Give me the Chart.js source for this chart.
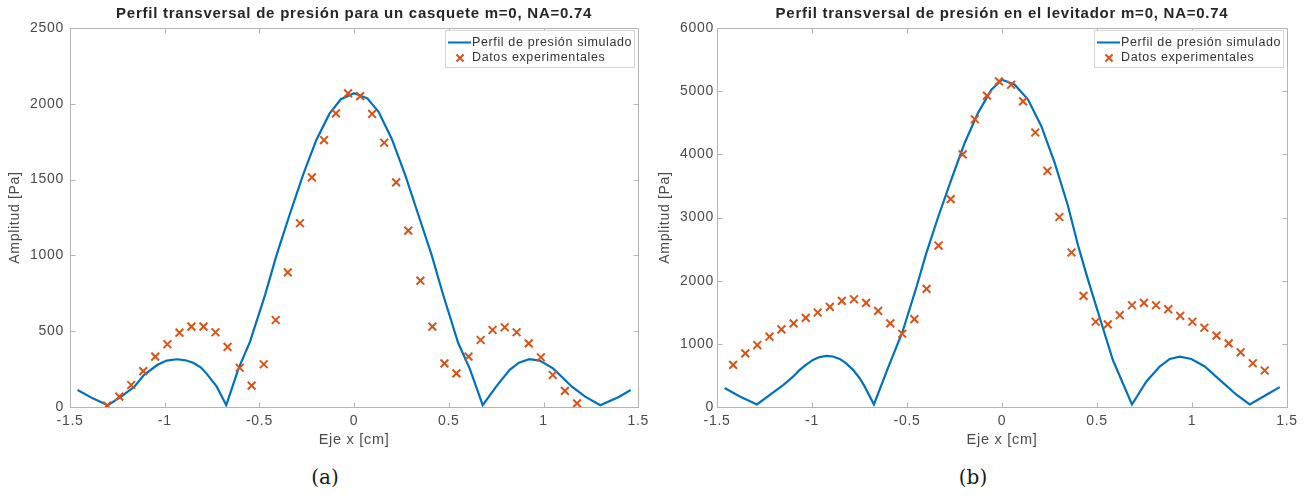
<!DOCTYPE html>
<html>
<head>
<meta charset="utf-8">
<script src="https://cdn.jsdelivr.net/npm/chart.js@4.4.1/dist/chart.umd.min.js"></script>
<style>
  html, body { margin: 0; padding: 0; background: #fff; }
  body { width: 1307px; height: 497px; position: relative; overflow: hidden; }
  .panel { position: absolute; top: 0; }
  .cap { position: absolute; top: 465px; font-family: "DejaVu Serif", serif; font-size: 20px; color: #1a1a1a; transform: translateX(-50%); white-space: nowrap; }
</style>
</head>
<body>
<div class="panel" style="left:0"><canvas id="chartA" width="655" height="455"></canvas></div>
<div class="panel" style="left:650px"><canvas id="chartB" width="657" height="455"></canvas></div>
<div class="cap" style="left:325px">(a)</div>
<div class="cap" style="left:973px">(b)</div>
<script>
// Axis ticks
const xTickValues = [-1.5, -1, -0.5, 0, 0.5, 1, 1.5];
const yTicksA = [0, 500, 1000, 1500, 2000, 2500];
const yTicksB = [0, 1000, 2000, 3000, 4000, 5000, 6000];

// (a) casquete: simulated profile
const simXA = [-1.46, -1.38, -1.30, -1.23, -1.16, -1.11, -1.04, -0.99, -0.935, -0.89, -0.85, -0.81, -0.78, -0.725, -0.675,
  -0.61, -0.55, -0.47, -0.41, -0.34, -0.27, -0.20, -0.13, -0.07, 0, 0.07, 0.13, 0.20, 0.27, 0.34, 0.41, 0.47, 0.55, 0.61,
  0.679, 0.75, 0.82, 0.87, 0.925, 0.98, 1.05, 1.10, 1.15, 1.22, 1.30, 1.40, 1.46];
const simYA = [112, 57, 12, 68, 134, 211, 277, 306, 315, 308, 292, 262, 222, 134, 12,
  255, 430, 740, 1000, 1270, 1530, 1760, 1935, 2030, 2070, 2036, 1945, 1765, 1530, 1265, 1000, 740, 420, 255,
  12, 134, 244, 292, 315, 306, 255, 195, 134, 68, 12, 68, 112];

// (a) casquete: measured points
const expXA = [-1.304, -1.240, -1.177, -1.113, -1.050, -0.986, -0.922, -0.859, -0.795, -0.732, -0.668, -0.604, -0.541,
  -0.477, -0.414, -0.350, -0.286, -0.223, -0.159, -0.096, -0.032, 0.032, 0.095, 0.159, 0.222, 0.286, 0.350, 0.413,
  0.477, 0.540, 0.604, 0.668, 0.731, 0.795, 0.858, 0.922, 0.986, 1.049, 1.113, 1.177];
const expYA = [10, 68, 145, 237, 332, 414, 490, 530, 530, 493, 396, 259, 141,
  282, 574, 888, 1212, 1515, 1761, 1937, 2069, 2051, 1933, 1743, 1482, 1163, 833, 530,
  288, 222, 332, 442, 508, 526, 493, 420, 328, 211, 106, 24];

// (b) levitador: simulated profile
const simXB = [-1.46, -1.38, -1.29, -1.22, -1.15, -1.10, -1.065, -1.03, -0.995, -0.96, -0.924, -0.89, -0.854, -0.82,
  -0.784, -0.75, -0.723, -0.674, -0.60, -0.525, -0.45, -0.40, -0.337, -0.266, -0.196, -0.126, -0.056, 0, 0.067, 0.137,
  0.207, 0.277, 0.347, 0.40, 0.45, 0.523, 0.584, 0.684, 0.76, 0.83, 0.883, 0.935, 0.997, 1.067, 1.146, 1.234, 1.304,
  1.392, 1.462];
const simYB = [300, 165, 40, 196, 351, 480, 588, 670, 745, 790, 810, 800, 761, 690,
  588, 460, 326, 40, 620, 1180, 1900, 2420, 3000, 3606, 4184, 4657, 5024, 5180, 5102, 4866,
  4446, 3869, 3186, 2560, 2040, 1330, 740, 40, 405, 641, 761, 798, 761, 641, 430, 194, 40,
  194, 315];

// (b) levitador: measured points
const expXB = [-1.415, -1.351, -1.288, -1.224, -1.161, -1.097, -1.033, -0.970, -0.906, -0.843, -0.779, -0.715, -0.652,
  -0.588, -0.525, -0.461, -0.397, -0.334, -0.270, -0.207, -0.143, -0.079, -0.016, 0.048, 0.111, 0.175, 0.239, 0.302,
  0.366, 0.429, 0.493, 0.557, 0.620, 0.684, 0.747, 0.811, 0.875, 0.938, 1.002, 1.065, 1.129, 1.193, 1.256, 1.320, 1.383];
const expYB = [666, 850, 981, 1113, 1228, 1323, 1412, 1496, 1585, 1680, 1706, 1648, 1522,
  1323, 1160, 1391, 1870, 2556, 3291, 4000, 4555, 4930, 5155, 5102, 4839, 4346, 3737, 3008,
  2446, 1759, 1350, 1307, 1453, 1611, 1649, 1611, 1548, 1444, 1350, 1255, 1129, 1008, 866, 693, 578];

const simLabel = 'Perfil de presión simulado';
const expLabel = 'Datos experimentales';

const FONT = '"Liberation Sans", Arial, Helvetica, sans-serif';
const BLUE = '#0072BD';
const ORANGE = '#D95319';
const AXIS_GRAY = '#b4b4b4';
const LABEL_GRAY = '#4a4a4a';

function pairs(xs, ys) { return xs.map((x, i) => ({ x: x, y: ys[i] })); }

// Slightly open tracking for every font the chart sets on this context
function openTracking(ctx) {
  const desc = Object.getOwnPropertyDescriptor(CanvasRenderingContext2D.prototype, 'font');
  Object.defineProperty(ctx, 'font', {
    configurable: true,
    get() { return desc.get.call(this); },
    set(v) {
      desc.set.call(this, v);
      const m = /(\d+(?:\.\d+)?)px/.exec(v);
      this.letterSpacing = m ? (parseFloat(m[1]) * 0.05).toFixed(2) + 'px' : '0px';
    }
  });
}

// Axes box with inward tick marks on all four sides
const boxPlugin = {
  id: 'axesBox',
  beforeDatasetsDraw(chart) {
    const { ctx, chartArea: a, scales } = chart;
    const L = Math.round(a.left) + 0.5, R = Math.round(a.right) + 0.5;
    const T = Math.round(a.top) + 0.5, B = Math.round(a.bottom) + 0.5;
    const tl = 5;
    ctx.save();
    ctx.strokeStyle = AXIS_GRAY;
    ctx.lineWidth = 1;
    ctx.strokeRect(L, T, R - L, B - T);
    ctx.beginPath();
    scales.x.ticks.forEach(t => {
      const px = Math.round(scales.x.getPixelForValue(t.value)) + 0.5;
      ctx.moveTo(px, B); ctx.lineTo(px, B - tl);
      ctx.moveTo(px, T); ctx.lineTo(px, T + tl);
    });
    scales.y.ticks.forEach(t => {
      const py = Math.round(scales.y.getPixelForValue(t.value)) + 0.5;
      ctx.moveTo(L, py); ctx.lineTo(L + tl, py);
      ctx.moveTo(R, py); ctx.lineTo(R - tl, py);
    });
    ctx.stroke();
    ctx.restore();
  }
};

// Legend box in the upper right corner of the plot area
const insetLegend = {
  id: 'insetLegend',
  afterDatasetsDraw(chart) {
    const { ctx, chartArea: a } = chart;
    const W = 189, H = 37;
    const L = Math.round(a.right) - 193, T = Math.round(a.top) + 2;
    const [line, pts] = chart.data.datasets;
    ctx.save();
    ctx.fillStyle = '#ffffff';
    ctx.fillRect(L, T, W, H);
    ctx.strokeStyle = '#d6d6d6';
    ctx.lineWidth = 1;
    ctx.strokeRect(L + 0.5, T + 0.5, W, H);
    ctx.font = '12.5px ' + FONT;
    ctx.textBaseline = 'middle';
    ctx.textAlign = 'left';
    const y1 = T + 12.5, y2 = T + 28;
    ctx.strokeStyle = line.borderColor;
    ctx.lineWidth = 2;
    ctx.beginPath(); ctx.moveTo(L + 3, y1); ctx.lineTo(L + 26, y1); ctx.stroke();
    ctx.fillStyle = '#333333';
    ctx.fillText(line.label, L + 27, y1);
    ctx.strokeStyle = pts.borderColor;
    Chart.helpers.drawPoint(ctx, { pointStyle: 'crossRot', radius: 5, borderWidth: 2, rotation: 0 }, L + 15, y2);
    ctx.fillText(pts.label, L + 27, y2);
    ctx.restore();
  }
};

function buildChart(id, cfg) {
  const canvas = document.getElementById(id);
  openTracking(canvas.getContext('2d'));
  return new Chart(canvas, {
    type: 'line',
    data: {
      datasets: [
        { label: simLabel, data: pairs(cfg.simX, cfg.simY), borderColor: BLUE, backgroundColor: BLUE,
          borderWidth: 2.2, pointRadius: 0, tension: 0, order: 2 },
        { label: expLabel, data: pairs(cfg.expX, cfg.expY), showLine: false, pointStyle: 'crossRot',
          pointRadius: 5.5, pointBorderWidth: 2, borderColor: ORANGE, backgroundColor: ORANGE, order: 1 }
      ]
    },
    options: {
      responsive: false,
      animation: false,
      devicePixelRatio: 1,
      layout: { padding: { left: 0, right: cfg.padRight, top: 0, bottom: 0 } },
      plugins: {
        legend: { display: false },
        tooltip: { enabled: false },
        title: {
          display: true, text: cfg.title, fullSize: false, color: '#262626',
          font: { family: FONT, size: 15, weight: 'bold' },
          padding: { top: 5, bottom: 5 }
        }
      },
      scales: {
        x: {
          type: 'linear', min: -1.5, max: 1.5,
          afterBuildTicks: s => { s.ticks = xTickValues.map(v => ({ value: v })); },
          afterFit: s => { s.height = 48; },
          grid: { display: false, drawTicks: false },
          border: { display: false },
          ticks: { color: LABEL_GRAY, font: { family: FONT, size: 14 }, padding: 6, maxRotation: 0, autoSkip: false,
                   callback: v => String(v) },
          title: { display: true, text: 'Eje x [cm]', color: LABEL_GRAY, font: { family: FONT, size: 14.5 },
                   padding: { top: 0, bottom: 6 } }
        },
        y: {
          type: 'linear', min: 0, max: cfg.yMax,
          afterBuildTicks: s => { s.ticks = cfg.yTicks.map(v => ({ value: v })); },
          afterFit: s => { s.width = cfg.yWidth; },
          grid: { display: false, drawTicks: false },
          border: { display: false },
          ticks: { color: LABEL_GRAY, font: { family: FONT, size: 14 }, padding: cfg.yPad, autoSkip: false,
                   callback: v => String(v) },
          title: { display: true, text: 'Amplitud [Pa]', color: LABEL_GRAY, font: { family: FONT, size: 14 },
                   padding: { top: 7, bottom: 0 } }
        }
      }
    },
    plugins: [boxPlugin, insetLegend]
  });
}

buildChart('chartA', {
  title: 'Perfil transversal de presión para un casquete m=0, NA=0.74',
  simX: simXA, simY: simYA, expX: expXA, expY: expYA,
  yMax: 2500, yTicks: yTicksA, yWidth: 70, yPad: 6, padRight: 15
});
buildChart('chartB', {
  title: 'Perfil transversal de presión en el levitador m=0, NA=0.74',
  simX: simXB, simY: simYB, expX: expXB, expY: expYB,
  yMax: 6000, yTicks: yTicksB, yWidth: 67, yPad: 3, padRight: 20
});
</script>
</body>
</html>
